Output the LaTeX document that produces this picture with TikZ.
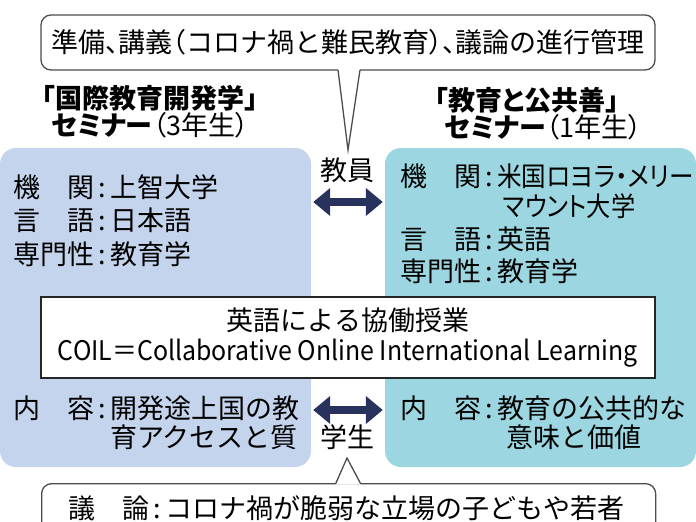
\documentclass[tikz,border=0pt]{standalone}
\usepackage{fontspec}
\setmainfont{Noto Sans CJK JP}
\newfontfamily\propjp[RawFeature=+palt]{Noto Sans CJK JP}
\newfontfamily\halfjp[RawFeature=+halt]{Noto Sans CJK JP}
\usepackage{graphicx}
\usepackage{tikz}
\usetikzlibrary{arrows.meta,calc}
\definecolor{intlblue}{RGB}{196,212,236}
\definecolor{pubteal}{RGB}{156,214,224}
\definecolor{arrownavy}{RGB}{40,50,92}
\tikzstyle{panel}=[rounded corners=16pt,minimum width=311pt,minimum height=319pt,inner sep=0pt]
\tikzstyle{note}=[draw=black!70,line width=1.3pt,fill=white,rounded corners=10pt,inner sep=0pt,font=\fontsize{27}{30}\selectfont]
\tikzstyle{body}=[inner sep=0pt,anchor=west,font=\fontsize{27}{30}\selectfont]
\tikzstyle{head}=[inner sep=0pt,font=\propjp\fontsize{27}{30}\selectfont\bfseries]
\tikzstyle{twoway}=[arrownavy,line width=7.5pt,{Triangle[length=17pt,width=27pt]}-{Triangle[length=17pt,width=27pt]}]
\tikzstyle{pointer}=[draw=black!70,line width=1.3pt]
\newcommand{\lbl}[2]{\makebox[3em][l]{#1\hfill#2}\makebox[0.6em]{:}}
\newcommand{\hp}[1]{{\halfjp #1}}
\begin{document}
\begin{tikzpicture}[x=1pt,y=-1pt]
\useasboundingbox (0,0) rectangle (696,522);
\clip (0,0) rectangle (696,522);
\node[panel,fill=intlblue] (intl) at (155.5,307.5) {};
\node[panel,fill=pubteal] (pub) at (540.5,307.5) {};
\node[head] (intlA) at (150,98) {「国際教育開発学」};
\node[head] (intlB) at (150,125) {セミナー{\mdseries（3年生）}};
\node[head] (pubA) at (527,100) {「教育と公共善」};
\node[head] (pubB) at (543,127) {セミナー{\mdseries（1年生）}};
% teachers
\node[note,minimum width=614pt,minimum height=55pt] (prep) at (348,42.5) {準備\hp{、}講義\hp{（}コロナ禍と難民教育\hp{）、}議論の進行管理};
\coordinate (tipT) at (348,150);
\fill[white] ($(prep.south)+(-10,-1.5)$) -- (tipT) -- ($(prep.south)+(12,-1.5)$) -- cycle;
\draw[pointer] ($(prep.south)+(-10,-0.7)$) -- (tipT) -- ($(prep.south)+(12,-0.7)$);
\node[body,anchor=center] (staff) at (347,170) {教員};
\coordinate (staffA) at (348,202);
\draw[twoway] ([xshift=2pt]intl.east |- staffA) -- ([xshift=-2pt]pub.west |- staffA);
\node[body] (i1) at (13,187) {\lbl{機}{関}上智大学};
\node[body] (i2) at (13,220) {\lbl{言}{語}日本語};
\node[body] (i3) at (13,254) {\lbl{専門}{性}教育学};
\node[body] (p1) at (400,176) {\lbl{機}{関}\resizebox{196pt}{\height}{\propjp 米国ロヨラ・メリー}};
\node[body] (p2) at (503,206) {\resizebox{132pt}{\height}{\propjp マウント大学}};
\node[body] (p3) at (400,239) {\lbl{言}{語}英語};
\node[body] (p4) at (400,271) {\lbl{専門}{性}教育学};
\node[draw=black!85,line width=1.2pt,fill=white,minimum width=614pt,minimum height=81pt,align=center,font=\fontsize{27}{30}\selectfont] (coil) at (348,337.5) {\raisebox{-2pt}{英語による協働授業}\\\raisebox{-2pt}{\resizebox{580pt}{\height}{COIL＝Collaborative Online International Learning}}};
% students
\node[body] (i4) at (13,408) {\lbl{内}{容}開発途上国の教};
\node[body] (i5) at (110,437) {育アクセスと質};
\node[body] (p5) at (400,408) {\lbl{内}{容}教育の公共的な};
\node[body] (p6) at (506,437) {意味と価値};
\coordinate (pupilA) at (348,410);
\draw[twoway] ([xshift=2pt]intl.east |- pupilA) -- ([xshift=-2pt]pub.west |- pupilA);
\node[body,anchor=center] (pupil) at (347,437) {学生};
\node[note,anchor=north west,text width=560pt,align=left,inner xsep=27pt,inner ysep=12pt] (talk) at (41,483) {\lbl{議}{論}コロナ禍が脆弱な立場の子どもや若者};
\coordinate (tipB) at (347,458);
\fill[white] ($(talk.north)+(-13,1.5)$) -- (tipB) -- ($(talk.north)+(12,1.5)$) -- cycle;
\draw[pointer] ($(talk.north)+(-13,0.7)$) -- (tipB) -- ($(talk.north)+(12,0.7)$);
\end{tikzpicture}
\end{document}
